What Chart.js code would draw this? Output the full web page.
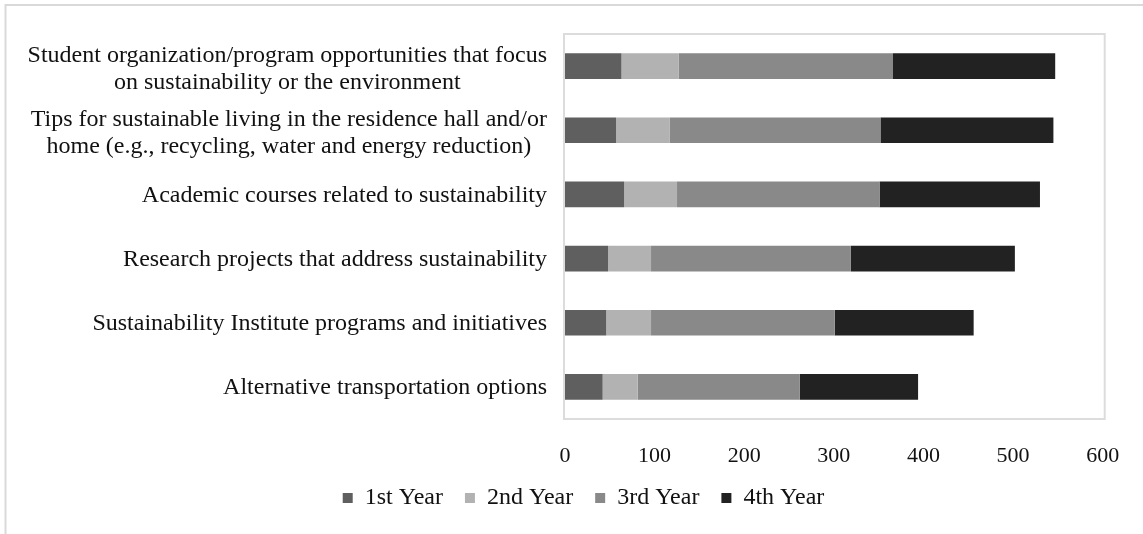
<!DOCTYPE html>
<html>
<head>
<meta charset="utf-8">
<script src="https://cdn.jsdelivr.net/npm/chart.js"></script>
<style>
  html, body { margin: 0; padding: 0; background: #fff; }
  #grafico { display: block; }
</style>
</head>
<body>
<canvas id="grafico" width="1143" height="534"></canvas>
<script>
// Dados
const categorias = [
  ["Student organization/program opportunities that focus", "on sustainability or the environment"],
  ["Tips for sustainable living in the residence hall and/or", "home (e.g., recycling, water and energy reduction)"],
  "Academic courses related to sustainability",
  "Research projects that address sustainability",
  "Sustainability Institute programs and initiatives",
  "Alternative transportation options"
];
const series = ["1st Year", "2nd Year", "3rd Year", "4th Year"];
const primeiroAno = [63, 57, 66, 48, 46, 42];
const segundoAno = [64, 60, 59, 48, 50, 39];
const terceiroAno = [239, 235, 226, 223, 205, 181];
const quartoAno = [181, 193, 179, 183, 155, 132];
const ticksX = [0, 100, 200, 300, 400, 500, 600];

const cores = ["#5f5f5f", "#b2b2b2", "#898989", "#222222"];
const fonte = "Liberation Serif, 'Times New Roman', serif";
const corTexto = "#111";

// molduras: borda externa e caixa da área do gráfico
const molduras = {
  id: "molduras",
  beforeDraw(chart) {
    const ctx = chart.ctx;
    ctx.save();
    ctx.strokeStyle = "#d9d9d9";
    ctx.lineWidth = 2;
    ctx.beginPath();
    ctx.moveTo(5.5, chart.height);
    ctx.lineTo(5.5, 5);
    ctx.lineTo(chart.width, 5);
    ctx.stroke();
    ctx.restore();
  },
  beforeDatasetsDraw(chart) {
    const { ctx, chartArea: a } = chart;
    ctx.save();
    ctx.strokeStyle = "#dcdcdc";
    ctx.lineWidth = 2;
    ctx.strokeRect(a.left - 1, a.top, a.right - a.left + 3, a.bottom - a.top);
    ctx.restore();
  }
};

// rótulos das categorias (linhas centralizadas, bloco alinhado à direita)
const rotulos = {
  id: "rotulos",
  afterDraw(chart) {
    const ctx = chart.ctx;
    const escalaY = chart.scales.y;
    const direita = chart.chartArea.left - 18;
    const alturaLinha = 27;
    ctx.save();
    ctx.font = "24px " + fonte;
    ctx.fillStyle = corTexto;
    ctx.textAlign = "center";
    ctx.textBaseline = "middle";
    categorias.forEach((cat, i) => {
      const linhas = Array.isArray(cat) ? cat : [cat];
      const largura = Math.max(...linhas.map(l => ctx.measureText(l).width));
      const cx = direita - largura / 2;
      const yc = escalaY.getPixelForValue(i) + (linhas.length > 1 ? 3 : 1);
      const y0 = yc - (linhas.length - 1) * alturaLinha / 2;
      linhas.forEach((l, k) => ctx.fillText(l, cx, y0 + k * alturaLinha));
    });
    ctx.restore();
  }
};

function desenharGrafico() {
  const ctx = document.getElementById("grafico").getContext("2d");
  const valores = [primeiroAno, segundoAno, terceiroAno, quartoAno];
  new Chart(ctx, {
    type: "bar",
    data: {
      labels: categorias,
      datasets: series.map((nome, i) => ({
        label: nome,
        data: valores[i],
        backgroundColor: cores[i],
        borderWidth: 0,
        barPercentage: 0.4,
        categoryPercentage: 1
      }))
    },
    options: {
      indexAxis: "y",
      responsive: false,
      animation: false,
      devicePixelRatio: 1,
      layout: { padding: { left: 64, right: 40, top: 34, bottom: 14 } },
      plugins: {
        tooltip: { enabled: false },
        legend: {
          position: "bottom",
          labels: {
            boxWidth: 10,
            boxHeight: 10,
            padding: 22,
            color: corTexto,
            font: { family: fonte, size: 24 }
          }
        }
      },
      scales: {
        x: {
          stacked: true,
          min: 0,
          max: 600,
          grid: { display: false, drawTicks: false },
          border: { display: false },
          afterBuildTicks: s => { s.ticks = ticksX.map(v => ({ value: v })); },
          afterFit: s => { s.height = 45; },
          ticks: {
            padding: 23.8,
            color: corTexto,
            font: { family: fonte, size: 22 }
          }
        },
        y: {
          stacked: true,
          grid: { display: false, drawTicks: false },
          border: { display: false },
          ticks: { display: false },
          afterFit: s => { s.width = 501; }
        }
      }
    },
    plugins: [molduras, rotulos]
  });
}

// Execução
desenharGrafico();
</script>
</body>
</html>
